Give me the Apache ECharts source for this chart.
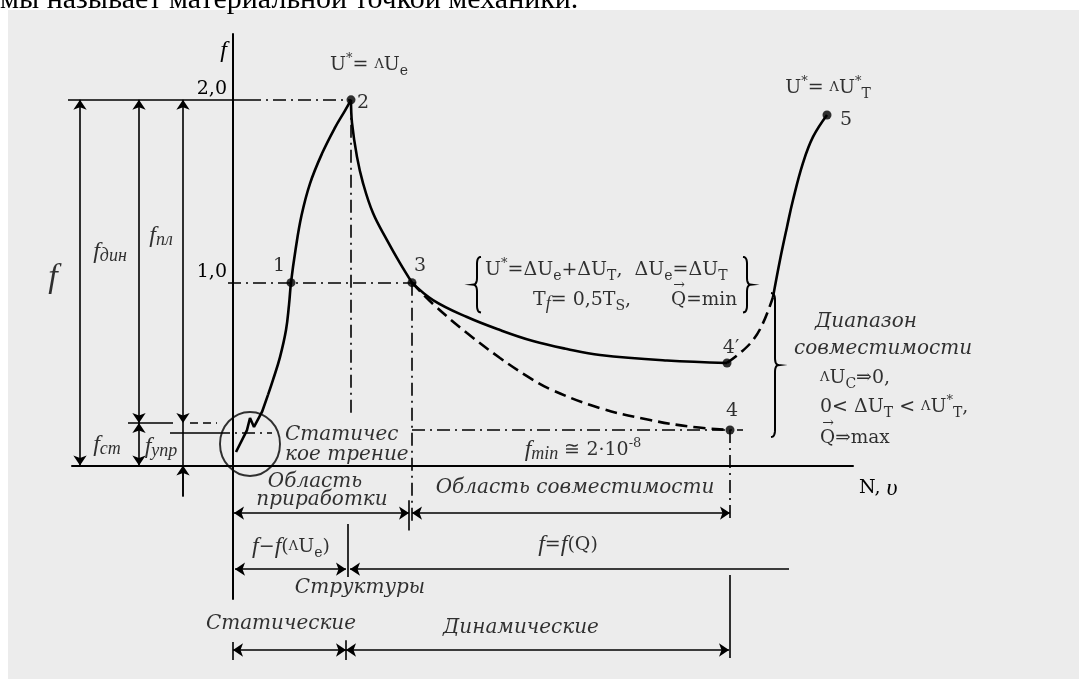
<!DOCTYPE html>
<html><head><meta charset="utf-8">
<script src="https://cdn.jsdelivr.net/npm/echarts@6/dist/echarts.min.js"></script>
<style>
html,body{margin:0;padding:0;background:#fff;overflow:hidden;}
#bg{position:absolute;left:8px;top:10px;right:0;bottom:0;background:#ececec;}
#chart{position:absolute;left:0;top:0;width:1079px;height:679px;}
</style></head><body>
<div id="bg"></div><div id="chart"></div>
<script>
// ---------- data ----------
const yTickValues = [1, 2];
const yTickLabels = ['1,0', '2,0'];
const pointNames = ['1', '2', '3', '4′', '4', '5'];
const pointX = [1.16, 2.36, 3.58, 9.88, 9.94, 11.88];
const pointY = [1.0, 2.0, 1.0, 0.561, 0.194, 1.917];

const zigzagX = [0.06, 0.28, 0.34, 0.42, 0.58, 0.70];
const zigzagY = [0.074, 0.194, 0.260, 0.211, 0.293, 0.386];
const riseX = [0.70, 0.80, 0.94, 1.06, 1.12, 1.16, 1.25, 1.37, 1.54, 1.78, 2.04, 2.24, 2.36];
const riseY = [0.386, 0.468, 0.593, 0.741, 0.878, 1.0, 1.179, 1.367, 1.542, 1.706, 1.848, 1.941, 2.0];
const fallX = [2.36, 2.38, 2.48, 2.60, 2.80, 3.08, 3.34, 3.58];
const fallY = [2.0, 1.874, 1.688, 1.545, 1.381, 1.233, 1.107, 1.0];
const plateauX = [3.58, 4.0, 4.68, 5.34, 6.0, 6.68, 7.34, 8.68, 9.88];
const plateauY = [1.0, 0.905, 0.812, 0.741, 0.681, 0.637, 0.604, 0.574, 0.561];
const decayX = [3.58, 4.0, 4.68, 5.34, 5.88, 6.34, 7.34, 8.34, 9.14, 9.94];
const decayY = [1.0, 0.883, 0.725, 0.588, 0.489, 0.418, 0.314, 0.249, 0.213, 0.194];
const upDashX = [9.88, 10.14, 10.4, 10.6, 10.8];
const upDashY = [0.561, 0.615, 0.686, 0.779, 0.921];
const upSolidX = [10.8, 10.94, 11.08, 11.2, 11.4, 11.6, 11.88];
const upSolidY = [0.921, 1.124, 1.305, 1.452, 1.655, 1.797, 1.917];
const circleCenter = [0.34, 0.118];

// construction lines (data coordinates)
const dashDotSegs = [
  [[0.3, 2.0], [2.36, 2.0]],
  [[2.36, 2.0], [2.36, 0.265]],
  [[-0.1, 1.0], [3.72, 1.0]],
  [[3.58, 1.0], [3.58, -0.314]],
  [[3.58, 0.194], [10.2, 0.194]],
  [[9.94, 0.194], [9.94, -0.314]],
  [[-0.32, 0.178], [0.78, 0.178]]
];
const dashSegs = [[[-0.86, 0.232], [-0.32, 0.232]]];
const solidSegs = [
  [[-3.3, 2.0], [0.3, 2.0]],
  [[-1.26, 0.178], [-0.32, 0.178]],
  [[-2.1, 0.232], [-1.2, 0.232]],
  [[-1.0, 0.232], [-1.0, -0.17]],
  [[3.52, -0.19], [3.52, -0.355]],
  [[2.3, -0.32], [2.3, -0.61]],
  [[0, -0.965], [0, -1.064]],
  [[2.26, -0.955], [2.26, -1.064]],
  [[9.94, -0.599], [9.94, -1.053]]
];
const twoWayArrows = [
  [[-3.06, 2.0], [-3.06, 0]],
  [[-1.88, 2.0], [-1.88, 0.232]],
  [[-1.88, 0.232], [-1.88, 0]],
  [[-1.0, 2.0], [-1.0, 0.232]],
  [[0.02, -0.26], [3.52, -0.26]],
  [[3.58, -0.26], [9.94, -0.26]],
  [[0.04, -0.567], [2.26, -0.567]],
  [[0, -1.009], [2.26, -1.009]],
  [[2.26, -1.009], [9.92, -1.009]]
];
const oneWayArrows = [
  [[-1.0, -0.17], [-1.0, 0]],
  [[11.12, -0.567], [2.34, -0.567]]
];
// braces: [x, yTop, yBottom, direction(1 = '}', -1 = '{')]
const braces = [
  [4.88, 1.141, 0.837, -1],
  [10.28, 1.141, 0.837, 1],
  [10.84, 0.943, 0.156, 1]
];

// ---------- styles ----------
const SERIF = '"DejaVu Serif", "Liberation Serif", serif';
const LSERIF = '"Liberation Serif", "DejaVu Serif", serif';
const rich = {
  n: {fontFamily: SERIF, fontSize: 20, lineHeight: 26, color: '#000'},
  q: {fontFamily: SERIF, fontSize: 18.5, lineHeight: 26, color: '#000'},
  i: {fontFamily: LSERIF, fontStyle: 'italic', fontSize: 24, lineHeight: 26, color: '#000'},
  big: {fontFamily: LSERIF, fontStyle: 'italic', fontSize: 34, lineHeight: 36, color: '#000'},
  sm: {fontFamily: SERIF, fontSize: 13, lineHeight: 26, color: '#000'},
  sub: {fontFamily: SERIF, fontSize: 14, lineHeight: 13, verticalAlign: 'bottom', color: '#000'},
  isub: {fontFamily: LSERIF, fontStyle: 'italic', fontSize: 18, lineHeight: 15, verticalAlign: 'bottom', color: '#000'},
  sup: {fontFamily: SERIF, fontSize: 13, lineHeight: 13, verticalAlign: 'top', color: '#000'},
  it: {fontFamily: SERIF, fontStyle: 'italic', fontSize: 20, lineHeight: 24, color: '#000'},
  arr: {fontFamily: SERIF, fontSize: 14, lineHeight: 14, color: '#000'}
};

function P(xs, ys) { return xs.map((x, i) => [x, ys[i]]); }
function ann(x, y, text, align) {
  return {value: [x, y], label: {show: true, formatter: text, align: align || 'center'}};
}
const annotations = [
  ann(2.72, 2.19, 'U{sup|*}= {sm|Λ}U{sub|e}'),
  ann(11.9, 2.065, 'U{sup|*}= {sm|Λ}U{sup|*}{sub|T}'),
  ann(-3.6, 1.025, '{big|f}'),
  ann(-2.46, 1.167, '{i|f}{isub|дин}'),
  ann(-1.44, 1.255, '{i|f}{isub|пл}'),
  ann(-2.52, 0.112, '{i|f}{isub|ст}'),
  ann(-1.44, 0.101, '{i|f}{isub|упр}'),
  ann(1.04, 0.167, '{it|Статичес}', 'left'),
  ann(1.04, 0.057, '{it|кое трение}', 'left'),
  ann(1.64, -0.09, '{it|Область}'),
  ann(1.78, -0.189, '{it|приработки}'),
  ann(7.0, 0.085, '{i|f}{isub|min} ≅ 2·10{sup|-8}'),
  ann(6.84, -0.123, '{it|Область совместимости}'),
  ann(1.16, -0.446, '{i|f}−{i|f}({sm|Λ}U{sub|e})'),
  ann(6.7, -0.435, '{i|f}={i|f}(Q)'),
  ann(2.54, -0.67, '{it|Структуры}'),
  ann(0.96, -0.867, '{it|Статические}'),
  ann(5.76, -0.889, '{it|Динамические}'),
  ann(5.04, 1.069, 'U{sup|*}=ΔU{sub|e}+ΔU{sub|T},  ΔU{sub|e}=ΔU{sub|T}', 'left'),
  ann(6.0, 0.905, 'T{isub|f}= 0,5T{sub|S},', 'left'),
  ann(8.76, 0.905, '{q|Q=min}', 'left'),
  ann(8.92, 0.987, '{arr|→}'),
  ann(12.66, 0.785, '{it|Диапазон}'),
  ann(13.0, 0.637, '{it|совместимости}'),
  ann(11.74, 0.479, '{sm|Λ}U{sub|C}⇒0,', 'left'),
  ann(11.74, 0.32, '0< ΔU{sub|T} < {sm|Λ}U{sup|*}{sub|T},', 'left'),
  ann(11.74, 0.15, '{q|Q⇒max}', 'left'),
  ann(11.9, 0.228, '{arr|→}')
];
const labelOffsets = [[-12, -17], [12, 3], [8, -17], [4, -15], [2, -19], [19, 5]];

function segSeries(segs, type, width, symbol) {
  return {
    type: 'lines', coordinateSystem: 'cartesian2d', clip: false, silent: true,
    symbol: symbol || ['none', 'none'], symbolSize: 10,
    lineStyle: {color: '#000', width: width, type: type, opacity: 1},
    itemStyle: {color: '#000'},
    data: segs.map(s => ({coords: s}))
  };
}
function curve(data, dashed, smooth) {
  return {
    type: 'line', data: data, clip: false, silent: true, symbol: 'none',
    smooth: smooth,
    lineStyle: {color: '#000', width: 2.6, type: dashed ? [12, 6] : 'solid'}
  };
}
function bracePoints(xs, yt, yb, dir) {
  const h = 4, ym = (yt + yb) / 2, r = Math.min(7, (yb - yt) / 6);
  const pts = [];
  function quad(p0, c, p1) {
    for (let k = 0; k <= 8; k++) {
      const t = k / 8, a = (1 - t) * (1 - t), b = 2 * (1 - t) * t, d = t * t;
      pts.push([a * p0[0] + b * c[0] + d * p1[0], a * p0[1] + b * c[1] + d * p1[1]]);
    }
  }
  quad([xs - dir * h, yt], [xs, yt], [xs, yt + r]);
  quad([xs, ym - r], [xs, ym], [xs + dir * h, ym]);
  quad([xs + dir * h, ym], [xs, ym], [xs, ym + r]);
  quad([xs, yb - r], [xs, yb], [xs - dir * h, yb]);
  return pts;
}

const chart = echarts.init(document.getElementById('chart'), null, {renderer: 'canvas'});
chart.setOption({
  backgroundColor: 'transparent',
  animation: false,
  graphic: [{
    type: 'text', left: 0, top: -15, silent: true,
    style: {text: 'мы называет материальной точкой механики.', font: '30px "Liberation Serif"', fill: '#000'}
  }],
  grid: {left: 72, right: 226, top: 34, bottom: 80, containLabel: false},
  xAxis: {
    type: 'value', min: -3.22, max: 12.4,
    axisLine: {show: true, onZero: true, lineStyle: {color: '#000', width: 2}},
    axisTick: {show: false}, axisLabel: {show: false}, splitLine: {show: false},
    name: 'N, {i|υ}', nameLocation: 'end', nameGap: 6,
    nameTextStyle: {fontFamily: SERIF, fontSize: 19, color: '#000', align: 'left', verticalAlign: 'top', padding: [10, 0, 0, 0], rich: rich}
  },
  yAxis: {
    type: 'value', min: -0.73, max: 2.36,
    axisLine: {show: true, onZero: true, lineStyle: {color: '#000', width: 2}},
    axisTick: {show: false}, splitLine: {show: false},
    axisLabel: {
      customValues: yTickValues,
      formatter: v => yTickLabels[yTickValues.indexOf(v)],
      fontFamily: SERIF, fontSize: 19, color: '#000', margin: -155,
      verticalAlign: 'bottom', padding: [0, 0, 1, 0]
    },
    name: '{i|f}', nameLocation: 'end', nameGap: -30,
    nameTextStyle: {align: 'right', padding: [0, 6, 0, 0], rich: rich}
  },
  series: [
    segSeries(solidSegs, 'solid', 1.6),
    segSeries(dashDotSegs, [13, 5, 2, 5], 1.6),
    segSeries(dashSegs, [8, 5], 1.6),
    segSeries(twoWayArrows, 'solid', 1.6, ['arrow', 'arrow']),
    segSeries(oneWayArrows, 'solid', 1.6, ['none', 'arrow']),
    curve(P(zigzagX, zigzagY), false, false),
    curve(P(riseX, riseY), false, 0.4),
    curve(P(fallX, fallY), false, 0.4),
    curve(P(plateauX, plateauY), false, 0.4),
    curve(P(decayX, decayY), true, 0.4),
    curve(P(upDashX, upDashY), true, 0.4),
    curve(P(upSolidX, upSolidY), false, 0.4),
    {
      type: 'scatter', clip: false, silent: true,
      data: [circleCenter], symbol: 'circle', symbolSize: [60, 64],
      itemStyle: {color: 'rgba(0,0,0,0)', borderColor: '#000', borderWidth: 2}
    },
    {
      type: 'custom', coordinateSystem: 'cartesian2d', silent: true, clip: false,
      data: braces,
      renderItem: function (params, api) {
        const a = api.coord([api.value(0), api.value(1)]);
        const b = api.coord([api.value(0), api.value(2)]);
        return {type: 'polyline', shape: {points: bracePoints(a[0], a[1], b[1], api.value(3))},
          style: {stroke: '#000', fill: null, lineWidth: 2}};
      }
    },
    {
      type: 'scatter', clip: false, silent: true, z: 5,
      symbol: 'circle', symbolSize: 9, itemStyle: {color: '#000'},
      data: pointX.map((x, i) => ({
        value: [x, pointY[i]],
        label: {show: true, formatter: pointNames[i], position: 'inside', offset: labelOffsets[i],
          fontFamily: SERIF, fontSize: 19, color: '#000'}
      }))
    },
    {
      type: 'scatter', clip: false, silent: true, z: 6,
      symbolSize: 0,
      label: {show: true, position: 'inside', fontFamily: SERIF, fontSize: 19, lineHeight: 26, color: '#000', rich: rich},
      data: annotations
    }
  ]
});
</script></body></html>
